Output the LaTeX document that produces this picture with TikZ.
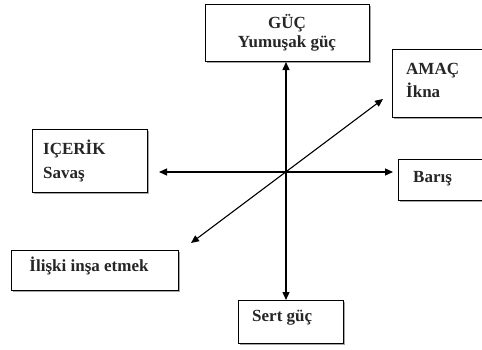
\documentclass[tikz,border=0pt]{standalone}
\usepackage{fontspec}
\setmainfont{Liberation Serif}
\usetikzlibrary{arrows.meta,shadows}
\begin{document}
\begin{tikzpicture}[x=1pt,y=-1pt,
  box/.style={draw=black, line width=1.1pt, fill=white, rectangle, anchor=north west, inner sep=0pt,
    drop shadow={shadow xshift=1.6pt, shadow yshift=-1.6pt, fill=gray!70, opacity=1}},
  lbl/.style={font=\fontsize{17}{20}\selectfont\bfseries, inner sep=0pt, text=black!85},
  conn/.style={line width=1.3pt, {Triangle[length=8pt,width=7pt]}-{Triangle[length=8pt,width=7pt]}}]
\useasboundingbox (0,0) rectangle (482,349);
\clip (0,0) rectangle (482,349);
% boxes
\node[box, minimum width=164pt, minimum height=57pt] (guc) at (205,4) {};
\node[box, minimum width=100pt, minimum height=68pt] (amac) at (392,49) {};
\node[box, minimum width=115pt, minimum height=63pt] (icerik) at (32,129) {};
\node[box, minimum width=95pt, minimum height=41pt] (baris) at (398,159) {};
\node[box, minimum width=167pt, minimum height=40pt] (iliski) at (11,250) {};
\node[box, minimum width=105pt, minimum height=43pt] (sert) at (238,300) {};
% labels
\node[lbl, anchor=base] (guc1) at (287,28) {GÜÇ};
\node[lbl, anchor=base] (guc2) at (287,47) {Yumuşak güç};
\node[lbl, anchor=base west] (amac1) at (406,74) {AMAÇ};
\node[lbl, anchor=base west] (amac2) at (406,97) {İkna};
\node[lbl, anchor=base west] (icerik1) at (43,154) {IÇERİK};
\node[lbl, anchor=base west] (icerik2) at (43,178) {Savaş};
\node[lbl, anchor=base west] (baris1) at (413,182) {Barış};
\node[lbl, anchor=base] (iliski1) at (89,271) {İlişki inşa etmek};
\node[lbl, anchor=base west] (sert1) at (252,321) {Sert güç};
% connector ends
\coordinate (o) at (286,172);
\coordinate (top) at (286,62);
\coordinate (bot) at (286,300);
\coordinate (lft) at (159,172);
\coordinate (rgt) at (393,172);
\coordinate (dl) at (191,243);
\coordinate (ur) at (383,99);
\draw[conn] (top) -- (bot);
\draw[conn] (lft) -- (rgt);
\draw[conn, line width=1.1pt] (dl) -- (ur);
\end{tikzpicture}
\end{document}
